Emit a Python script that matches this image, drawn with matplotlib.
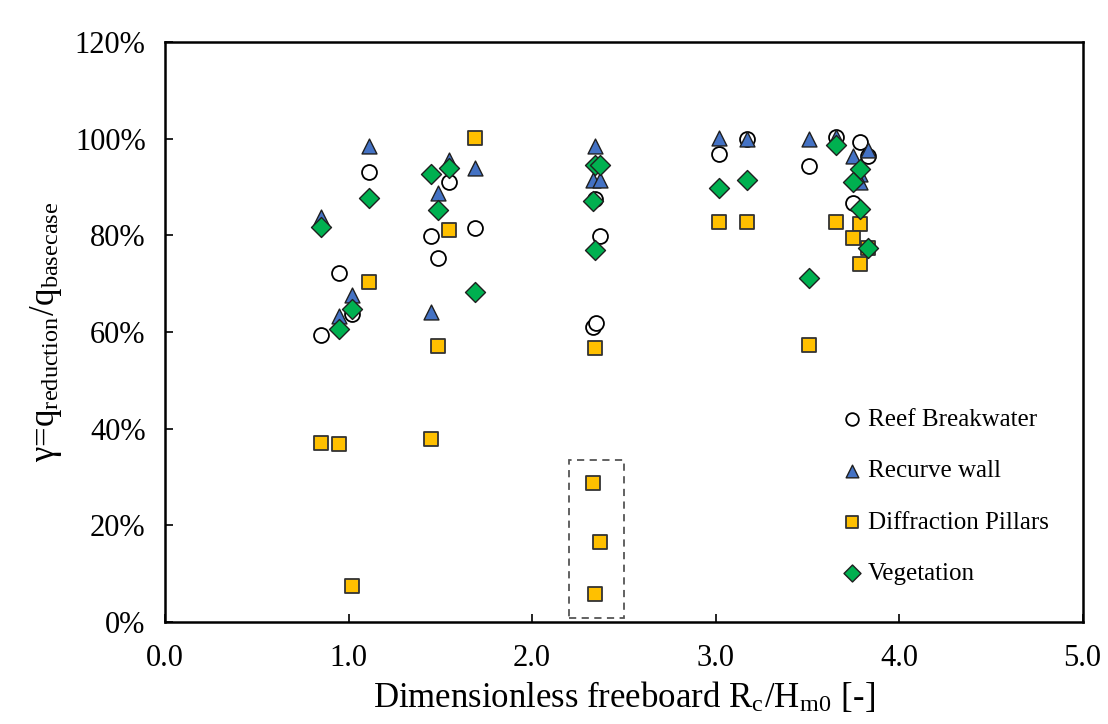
import matplotlib
matplotlib.use("Agg")
import matplotlib.pyplot as plt
from matplotlib.patches import Rectangle
from matplotlib.ticker import FuncFormatter

# Reef Breakwater (open circles)
reef_x = [0.85, 0.95, 1.02, 1.11, 1.45, 1.49, 1.55, 1.69, 2.345, 2.37, 2.33, 2.35,
          3.02, 3.17, 3.51, 3.655, 3.79, 3.83, 3.75]
reef_y = [59.3, 72.2, 63.8, 93.0, 79.8, 75.2, 91.0, 81.5, 87.5, 79.9, 61.0, 61.8,
          96.8, 99.9, 94.3, 100.3, 99.3, 96.5, 86.6]

# Recurve wall (triangles)
wall_x = [0.85, 1.11, 0.95, 1.02, 1.45, 1.49, 1.55, 1.69, 2.345, 2.33, 2.37,
          3.02, 3.17, 3.51, 3.655, 3.83, 3.75, 3.79, 3.79]
wall_y = [83.7, 98.4, 63.2, 67.7, 64.2, 88.7, 95.5, 94.0, 98.4, 91.4, 91.4,
          100.2, 100.0, 100.0, 100.3, 97.6, 96.4, 92.6, 91.0]

# Diffraction Pillars (squares)
pillar_x = [0.85, 0.95, 1.02, 1.11, 1.45, 1.49, 1.55, 1.69, 2.345, 2.33, 2.37, 2.345,
            3.02, 3.17, 3.51, 3.655, 3.79, 3.75, 3.79, 3.83]
pillar_y = [37.0, 36.8, 7.5, 70.3, 37.9, 57.0, 81.0, 100.2, 56.7, 28.8, 16.6, 5.8,
            82.8, 82.8, 57.4, 82.8, 82.4, 79.5, 74.1, 77.4]

# Vegetation (diamonds)
veg_x = [0.85, 0.95, 1.02, 1.11, 1.45, 1.49, 1.55, 1.69, 2.345, 2.37, 2.33, 2.345,
         3.02, 3.17, 3.51, 3.655, 3.79, 3.75, 3.79, 3.83]
veg_y = [81.8, 60.7, 64.7, 87.8, 92.7, 85.3, 94.0, 68.3, 94.6, 94.6, 87.0, 77.0,
         89.8, 91.5, 71.2, 98.6, 93.8, 91.0, 85.5, 77.4]

x_ticks = [0, 1, 2, 3, 4, 5]
y_ticks = [0, 20, 40, 60, 80, 100, 120]

plt.rcParams['font.family'] = ['Liberation Serif', 'DejaVu Serif']
plt.rcParams['mathtext.fontset'] = 'stix'

fig = plt.figure(figsize=(11.08, 7.24), dpi=100)
ax = fig.add_axes([0.149, 0.141, 0.828, 0.801])

ms = 115
ax.scatter(reef_x, reef_y, s=ms, marker='o', facecolor='white', edgecolor='black',
           linewidth=1.3, label='Reef Breakwater', zorder=3)
ax.scatter(wall_x, wall_y, s=ms, marker='^', facecolor='#4472C4', edgecolor='#1f1f1f',
           linewidth=1.0, label='Recurve wall', zorder=3)
ax.scatter(pillar_x, pillar_y, s=ms * 0.9, marker='s', facecolor='#FFC000', edgecolor='#333333',
           linewidth=1.3, label='Diffraction Pillars', zorder=3)
ax.scatter(veg_x, veg_y, s=ms * 0.9, marker='D', facecolor='#00B050', edgecolor='#1f1f1f',
           linewidth=1.0, label='Vegetation', zorder=3)

ax.add_patch(Rectangle((2.20, 0.8), 0.30, 32.7, fill=False, edgecolor='#555555',
                       linestyle=(0, (4, 3)), linewidth=1.3, zorder=2))

ax.set_xlim(0, 5)
ax.set_ylim(0, 120)
ax.set_xticks(x_ticks)
ax.set_yticks(y_ticks)
ax.xaxis.set_major_formatter(FuncFormatter(lambda v, p: f"{v:.1f}"))
ax.yaxis.set_major_formatter(FuncFormatter(lambda v, p: f"{v:.0f}%"))
ax.tick_params(direction='in', length=6, width=1.2, labelsize=22)
ax.tick_params(axis='x', pad=16)
ax.tick_params(axis='y', pad=14)
for s in ax.spines.values():
    s.set_linewidth(1.8)

ax.set_xlabel(r"Dimensionless freeboard R$_\mathregular{c}$/H$_\mathregular{m0}$ [-]", fontsize=25, labelpad=5)
ax.set_ylabel(r"γ=q$_\mathregular{reduction}$/q$_\mathregular{basecase}$", fontsize=25, labelpad=8)

leg = ax.legend(loc='upper left', bbox_to_anchor=(0.735, 0.368), frameon=False, fontsize=18,
                labelspacing=1.15, handletextpad=0.15, handlelength=1.0, markerscale=0.85,
                borderpad=0.0, borderaxespad=0.0)

fig.savefig('out.png', dpi=100)
